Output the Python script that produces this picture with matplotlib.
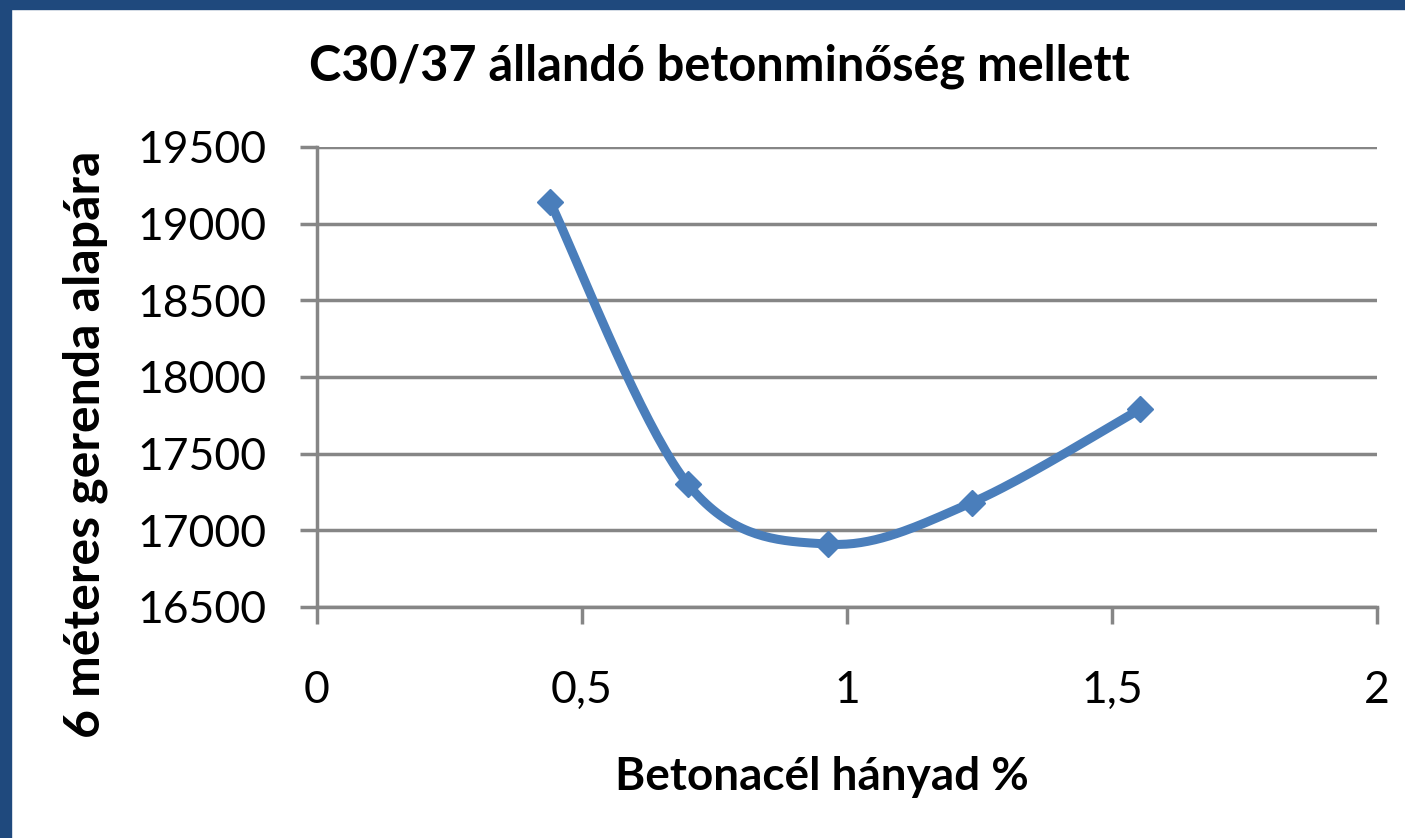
import numpy as np
import matplotlib
matplotlib.use("Agg")
from matplotlib import pyplot as plt
from matplotlib.patches import Rectangle

# data
steel_pct = [0.44, 0.70, 0.965, 1.235, 1.553]
price = [19140, 17300, 16910, 17180, 17790]

x_ticks = [0, 0.5, 1, 1.5, 2]
x_labels = ["0", "0,5", "1", "1,5", "2"]
y_ticks = [16500, 17000, 17500, 18000, 18500, 19000, 19500]

title = "C30/37 állandó betonminőség mellett"
x_title = "Betonacél hányad %"
y_title = "6 méteres gerenda alapára"

plt.rcParams['font.family'] = ['Lato', 'DejaVu Sans']

line_col = "#4A7EBB"
grid_col = "#868686"


def smooth(xs, ys, n=40):
    # Excel-like smoothed line (Catmull-Rom through the points)
    px = [xs[0]] + list(xs) + [xs[-1]]
    py = [ys[0]] + list(ys) + [ys[-1]]
    ox, oy = [], []
    t = np.linspace(0, 1, n)
    for i in range(1, len(px) - 2):
        p0, p1, p2, p3 = (np.array([px[j], py[j]]) for j in (i - 1, i, i + 1, i + 2))
        c1 = p1 + (p2 - p0) / 6
        c2 = p2 - (p3 - p1) / 6
        for tt in t:
            b = ((1 - tt) ** 3) * p1 + 3 * ((1 - tt) ** 2) * tt * c1 + 3 * (1 - tt) * tt ** 2 * c2 + tt ** 3 * p2
            ox.append(b[0])
            oy.append(b[1])
    return ox, oy


fig = plt.figure(figsize=(14.05, 8.38), dpi=100)
fig.patches.append(Rectangle((0, 0), 11 / 1405, 1, transform=fig.transFigure, color="#1F497D", zorder=0))
fig.patches.append(Rectangle((0, 1 - 9 / 838), 1, 9 / 838, transform=fig.transFigure, color="#1F497D", zorder=0))

ax = fig.add_axes([317 / 1405, 1 - 607 / 838, 1060 / 1405, 460 / 838])

sx, sy = smooth(steel_pct, price)
ax.plot(sx, sy, color=line_col, lw=6.5, solid_capstyle="round", zorder=3)
ax.plot(steel_pct, price, ls="none", marker="D", ms=13, color=line_col, zorder=4)

ax.set_xlim(0, 2)
ax.set_ylim(16500, 19500)
ax.set_xticks(x_ticks)
ax.set_xticklabels(x_labels)
ax.set_yticks(y_ticks)
ax.yaxis.grid(True, color=grid_col, lw=2.5)
ax.set_axisbelow(True)

for s in ["top", "right"]:
    ax.spines[s].set_visible(False)
for s in ["left", "bottom"]:
    ax.spines[s].set_color(grid_col)
    ax.spines[s].set_linewidth(2.5)

ax.tick_params(axis="both", colors=grid_col, length=12, width=2.5, labelcolor="black", labelsize=32)
ax.tick_params(axis="x", pad=33)
ax.tick_params(axis="y", pad=24)

fig.text(719 / 1405, 1 - 66 / 838, title, ha="center", va="center", fontsize=35, fontweight="bold")
fig.text(822 / 1405, 1 - 777 / 838, x_title, ha="center", va="center", fontsize=33, fontweight="bold")
fig.text(85 / 1405, 1 - 444 / 838, y_title, ha="center", va="center", rotation=90, fontsize=36, fontweight="bold")

fig.savefig("out.png", dpi=100)
